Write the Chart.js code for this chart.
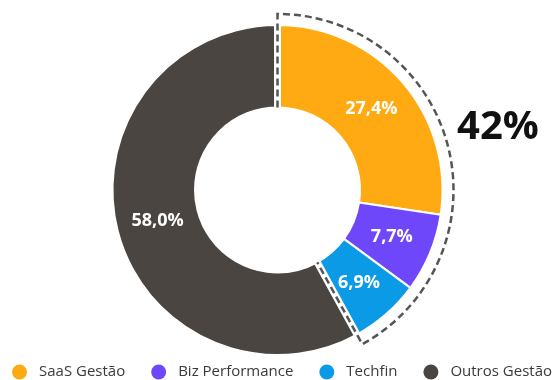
<!DOCTYPE html>
<html>
<head>
<meta charset="utf-8">
<script src="https://cdn.jsdelivr.net/npm/chart.js@4"></script>
<style>
  html, body { margin: 0; padding: 0; background: #fff; }
  #wrap { width: 555px; height: 380px; }
</style>
</head>
<body>
<div id="wrap"><canvas id="pieChart" width="555" height="380"></canvas></div>
<script>
const labels = ["SaaS Gestão", "Biz Performance", "Techfin", "Outros Gestão"];
const values = [27.4, 7.7, 6.9, 58.0];
const colors = ["#FFAA12", "#6F47FB", "#0B9BE6", "#4A4540"];
const highlightCount = 3; // first three slices get the dashed outline
const highlightLabel = "42%";

// white % labels in the middle of each slice
const sliceLabels = {
  id: "sliceLabels",
  afterDatasetsDraw(chart) {
    const ctx = chart.ctx;
    const arcs = chart.getDatasetMeta(0).data;
    ctx.save();
    ctx.fillStyle = "#fff";
    ctx.font = "bold 18px 'Open Sans', sans-serif";
    ctx.textAlign = "center";
    ctx.textBaseline = "middle";
    arcs.forEach((arc, i) => {
      const p = arc.tooltipPosition();
      ctx.fillText(values[i].toFixed(1).replace(".", ",") + "%", p.x, p.y);
    });
    ctx.restore();
  }
};

// dashed outline around the highlighted group + big total label
const groupOutline = {
  id: "groupOutline",
  afterDatasetsDraw(chart) {
    const ctx = chart.ctx;
    const arcs = chart.getDatasetMeta(0).data;
    const first = arcs[0], last = arcs[highlightCount - 1];
    const cx = first.x, cy = first.y;
    const rin = first.innerRadius;
    const rout = first.outerRadius + 11;
    const a0 = first.startAngle, a1 = last.endAngle;

    const path = () => {
      ctx.beginPath();
      ctx.moveTo(cx + rin * Math.cos(a0), cy + rin * Math.sin(a0));
      ctx.lineTo(cx + rout * Math.cos(a0), cy + rout * Math.sin(a0));
      ctx.arc(cx, cy, rout, a0, a1);
      ctx.lineTo(cx + rin * Math.cos(a1), cy + rin * Math.sin(a1));
    };
    ctx.save();
    ctx.strokeStyle = "#fff";
    ctx.lineWidth = 7;
    path(); ctx.stroke();
    ctx.strokeStyle = "#555";
    ctx.lineWidth = 2.5;
    ctx.setLineDash([7, 4]);
    path(); ctx.stroke();
    ctx.restore();

    ctx.save();
    ctx.fillStyle = "#111";
    ctx.font = "bold 40px 'Open Sans', sans-serif";
    ctx.textAlign = "center";
    ctx.textBaseline = "middle";
    ctx.fillText(highlightLabel, 498, 128);
    ctx.restore();
  }
};

// legend spread over the full width under the chart
const wideLegend = {
  id: "wideLegend",
  afterDraw(chart) {
    const ctx = chart.ctx;
    const left = 12, right = 552, y = 372, dot = 15, gap = 12;
    ctx.save();
    ctx.font = "15px 'Open Sans', sans-serif";
    ctx.textBaseline = "middle";
    const widths = labels.map(t => ctx.measureText(t).width);
    const used = widths.reduce((s, w) => s + w + dot + gap, 0);
    const spacing = (right - left - used) / (labels.length - 1);
    let x = left;
    labels.forEach((t, i) => {
      ctx.fillStyle = colors[i];
      ctx.beginPath();
      ctx.arc(x + dot / 2, y, dot / 2, 0, Math.PI * 2);
      ctx.fill();
      ctx.fillStyle = "#3a3a3a";
      ctx.fillText(t, x + dot + gap, y);
      x += dot + gap + widths[i] + spacing;
    });
    ctx.restore();
  }
};

const ctx = document.querySelector("#pieChart").getContext("2d");
const pieChart = new Chart(ctx, {
  type: "doughnut",
  data: {
    labels: labels,
    datasets: [{
      data: values,
      backgroundColor: colors,
      borderColor: "#fff",
      borderWidth: 2,
      clip: false,
    }],
  },
  options: {
    responsive: false,
    animation: false,
    radius: 165,
    cutout: "50%",
    layout: { padding: 0 },
    plugins: {
      legend: { display: false },
      tooltip: { enabled: false },
    },
  },
  plugins: [groupOutline, sliceLabels, wideLegend],
});
</script>
</body>
</html>
